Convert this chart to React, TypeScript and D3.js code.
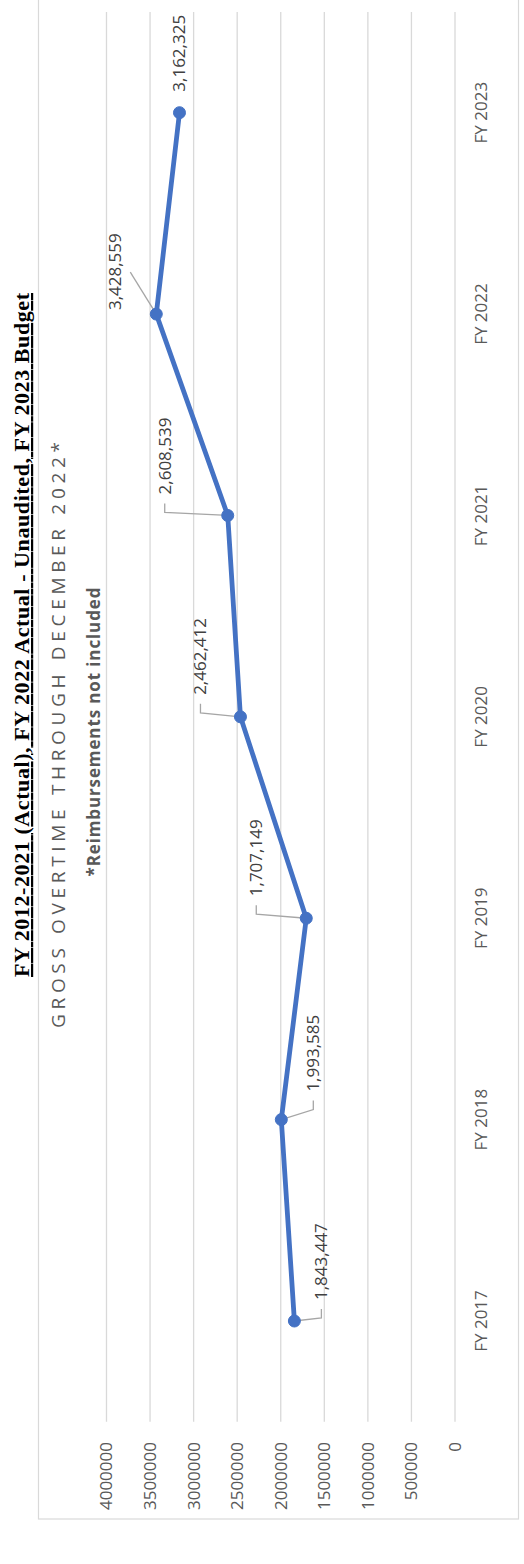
import React from "react";
import * as d3 from "d3";

const categories = ["FY 2017", "FY 2018", "FY 2019", "FY 2020", "FY 2021", "FY 2022", "FY 2023"];
const overtime = [1843447, 1993585, 1707149, 2462412, 2608539, 3428559, 3162325];
const valueTicks = [0, 500000, 1000000, 1500000, 2000000, 2500000, 3000000, 3500000, 4000000];
const tickLabels = ["0", "500000", "1000000", "1500000", "2000000", "2500000", "3000000", "3500000", "4000000"];
const docTitle = "FY 2012-2021 (Actual), FY 2022 Actual - Unaudited, FY 2023 Budget";
const chartTitle = "GROSS OVERTIME THROUGH DECEMBER 2022*";
const chartSubtitle = "*Reimbursements not included";

// layout for data labels (picture offsets relative to point)
const labelLayout = [
  { dx: 27, dy: -21, leader: "elbow" },
  { dx: 32, dy: -28, leader: "elbow" },
  { dx: -50, dy: -22, leader: "elbow" },
  { dx: -40, dy: -22, leader: "elbow" },
  { dx: -63, dy: -21, leader: "elbow" },
  { dx: -41, dy: -4, leader: "diag" },
  { dx: 0, dy: -21, leader: "none" },
];

const W = 524;
const H = 1564;
const FONT = "'Open Sans', 'Noto Sans', sans-serif";

export default function App() {
  const x = d3.scaleLinear().domain([0, 4000000]).range([455, 106.5]);
  const y = d3.scaleBand<string>().domain(categories).range([1421.7, 12]);
  const cy = (c: string) => (y(c) as number) + y.bandwidth() / 2;
  const pts = categories.map((c, i) => [x(overtime[i]), cy(c)] as [number, number]);
  const line = d3.line<[number, number]>().x((d) => d[0]).y((d) => d[1]);
  const fmt = d3.format(",");
  const gridTop = 12;
  const gridBottom = 1421.7;

  return (
    <svg width={W} height={H} style={{ position: "absolute", left: 0, top: 0 }} xmlns="http://www.w3.org/2000/svg">
      <rect x={0} y={0} width={W} height={H} fill="#ffffff" />
      {/* chart border */}
      <rect x={38.5} y={-2} width={480} height={1521} fill="none" stroke="#d9d9d9" strokeWidth={1.2} />

      {/* document title */}
      <text
        transform={`translate(29,635) rotate(-90)`}
        textAnchor="middle"
        fontFamily="'Liberation Serif', serif"
        fontWeight={700}
        fontSize={22}
        textLength={684}
        fill="#000"
        style={{ textDecoration: "underline" }}
      >
        {docTitle}
      </text>

      {/* chart title */}
      <text
        transform={`translate(65,735) rotate(-90)`}
        textAnchor="middle"
        fontFamily={FONT}
        fontSize={19}
        textLength={586}
        fill="#595959"
      >
        {chartTitle}
      </text>
      <text
        transform={`translate(100,732) rotate(-90)`}
        textAnchor="middle"
        fontFamily={FONT}
        fontWeight={700}
        fontSize={17}
        textLength={289}
        fill="#595959"
      >
        {chartSubtitle}
      </text>

      {/* gridlines */}
      {valueTicks.map((v) => (
        <line key={v} x1={x(v)} x2={x(v)} y1={gridTop} y2={gridBottom} stroke="#d9d9d9" strokeWidth={1.3} />
      ))}

      {/* value tick labels */}
      {valueTicks.map((v, i) => (
        <text
          key={"t" + v}
          transform={`translate(${x(v)},1442) rotate(-90)`}
          textAnchor="end"
          dy="0.35em"
          fontFamily={FONT}
          fontSize={17}
          fill="#595959"
        >
          {tickLabels[i]}
        </text>
      ))}

      {/* category labels */}
      {categories.map((c) => (
        <text
          key={c}
          transform={`translate(481,${cy(c)}) rotate(-90)`}
          textAnchor="middle"
          dy="0.35em"
          fontFamily={FONT}
          fontSize={17}
          fill="#595959"
        >
          {c}
        </text>
      ))}

      {/* leader lines */}
      {pts.map(([px, py], i) => {
        const L = labelLayout[i];
        const lx = px + L.dx;
        const lb = py + L.dy;
        if (L.leader === "elbow") {
          return (
            <path
              key={"ld" + i}
              d={`M${lx},${lb + 9}L${lx},${lb + 18}L${px},${py}`}
              fill="none"
              stroke="#a6a6a6"
              strokeWidth={1.3}
            />
          );
        }
        if (L.leader === "diag") {
          return (
            <line key={"ld" + i} x1={px - 26} y1={py - 42} x2={px} y2={py} stroke="#a6a6a6" strokeWidth={1.3} />
          );
        }
        return null;
      })}

      {/* series line */}
      <path d={line(pts) || ""} fill="none" stroke="#4472c4" strokeWidth={4.8} strokeLinejoin="round" strokeLinecap="round" />
      {pts.map(([px, py], i) => (
        <circle key={"m" + i} cx={px} cy={py} r={6} fill="#4472c4" stroke="#4472c4" strokeWidth={1} />
      ))}

      {/* data labels */}
      {pts.map(([px, py], i) => {
        const L = labelLayout[i];
        return (
          <text
            key={"dl" + i}
            transform={`translate(${px + L.dx},${py + L.dy}) rotate(-90)`}
            textAnchor="start"
            dy="0.35em"
            fontFamily={FONT}
            fontSize={17}
            fill="#404040"
          >
            {fmt(overtime[i])}
          </text>
        );
      })}
    </svg>
  );
}
